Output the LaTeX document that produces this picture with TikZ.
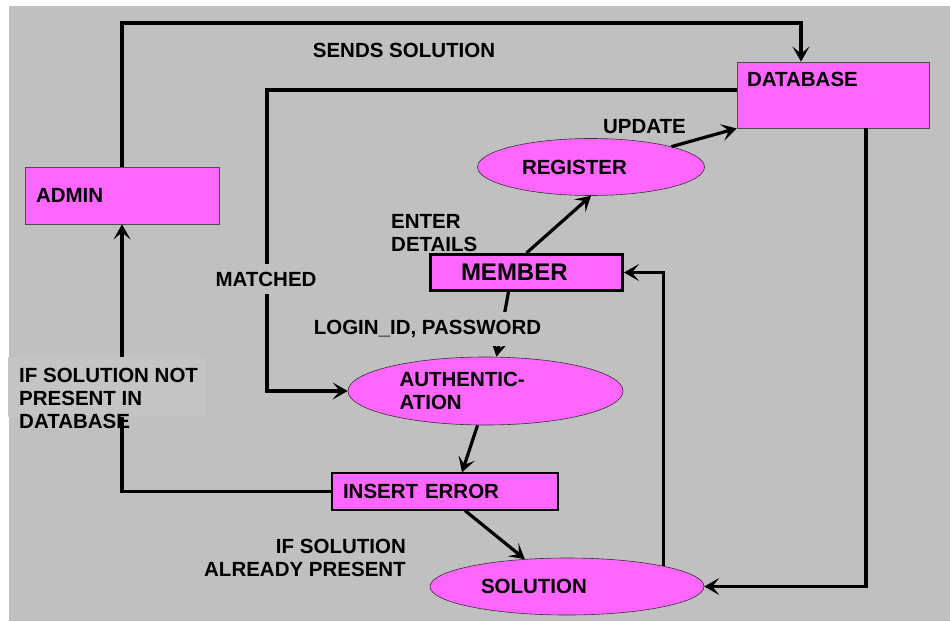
\documentclass[tikz,border=0pt]{standalone}
\usepackage{fontspec}
\setmainfont{Liberation Sans}
\usetikzlibrary{shapes.geometric,arrows.meta}
\definecolor{panel}{RGB}{192,192,192}
\definecolor{panellight}{RGB}{196,196,196}
\definecolor{proc}{RGB}{255,102,255}

\begin{document}
\begin{tikzpicture}[x=1pt,y=-1pt,
    font=\fontsize{20.5}{23}\selectfont\bfseries,
    box/.style={draw=black!70, line width=0.8pt, fill=proc, align=left, inner ysep=0pt},
    bubble/.style={ellipse, draw=black!80, line width=0.6pt, fill=proc, align=left, inner sep=0pt},
    flow/.style={line width=3.2pt, -{Stealth[length=15pt,width=17pt,inset=7pt]}},
    tag/.style={inner sep=1pt, align=left}]
    % grey sheet
    \useasboundingbox (0,0) rectangle (950,621);
    \fill[panel] (9,6) rectangle (950,621);

    % label sitting under the member box
    \node[tag, anchor=west] (enterlbl) at (390,233.5) {ENTER\\DETAILS};

    % stores and processes
    \node[box, minimum height=57pt, text width=172pt, inner xsep=11pt] (admin) at (122,195.5) {ADMIN};
    \node[box, text width=172pt, inner xsep=10pt, text height=24pt, text depth=42pt] (database) at (833,95) {DATABASE};
    \node[bubble, minimum width=227pt, minimum height=57pt, text width=138pt] (register) at (591,167) {REGISTER};
    \node[box, draw=black, line width=3pt, minimum height=36pt, text width=131pt, inner xsep=30.5pt,
          font=\fontsize{24}{28}\selectfont\bfseries] (member) at (526.5,272.5) {MEMBER};
    \node[bubble, minimum width=275pt, minimum height=68pt, text width=172pt] (auth) at (485.5,391) {AUTHENTIC-\\ATION};
    \node[box, draw=black, line width=1.2pt, minimum height=37pt, text width=204pt, inner xsep=11pt] (inserterr) at (445,491.5) {INSERT ERROR};
    \node[bubble, minimum width=274pt, minimum height=57pt, text width=172pt] (solution) at (567,586.5) {SOLUTION};

    % flows
    \coordinate (sendturn) at (801,23);
    \coordinate (matchturn) at (267,90);
    \draw[flow] (admin.north) |- (sendturn) -- (sendturn |- database.north);
    \draw[flow] ([yshift=5pt]database.west) -- (matchturn) |- (auth.west);
    \draw[flow] (register.north east) -- (database.south west);
    \draw[flow] (member.north) -- (register.south);
    \draw[flow] ([xshift=-18pt]member.south) -- ([xshift=11pt]auth.north);
    \draw[flow] ([xshift=-8pt]auth.south) -- ([xshift=17pt]inserterr.north);
    \draw[flow] ([xshift=20pt]inserterr.south) -- (solution.147);
    \draw[flow] (inserterr.west) -| (admin.south);
    \draw[flow] ([xshift=33pt]database.south) |- (solution.east);
    \draw[flow] (solution.12) |- (member.east);

    % flow labels
    \node[tag] (sendlbl) at (404,50) {SENDS SOLUTION};
    \node[tag] (updatelbl) at (644.5,127) {UPDATE};
    \node[tag, fill=panel, inner ysep=8pt] (matchlbl) at (266,279) {MATCHED};
    \node[tag, fill=panel, inner ysep=8pt] (loginlbl) at (427.5,329) {LOGIN\_ID, PASSWORD};
    \fill[panellight] (8,357) rectangle (205,417);
    \node[tag, anchor=west] (missinglbl) at (18,398) {IF SOLUTION NOT\\PRESENT IN\\DATABASE};
    \node[tag, align=right, anchor=east] (presentlbl) at (407,558) {IF SOLUTION\\ALREADY PRESENT};
\end{tikzpicture}
\end{document}
